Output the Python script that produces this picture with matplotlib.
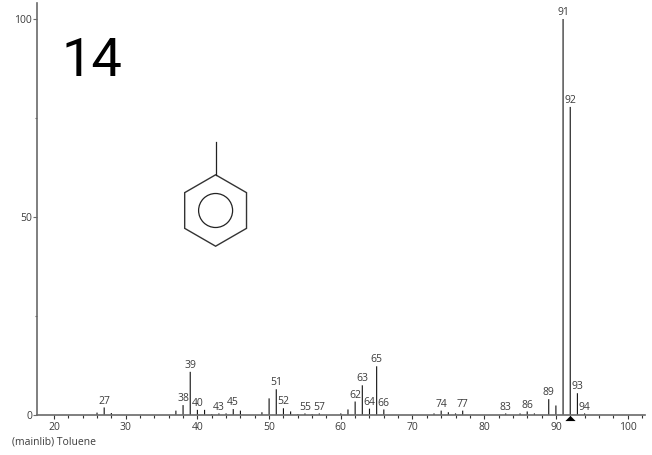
import numpy as np
import matplotlib
matplotlib.use("Agg")
import matplotlib.pyplot as plt
from matplotlib.patches import Circle, Polygon
from matplotlib.transforms import Affine2D, ScaledTranslation

plt.rcParams['font.family'] = ['Open Sans', 'DejaVu Sans']

mz = [26, 27, 28, 37, 38, 39, 40, 41, 42, 43, 44, 45, 46, 49, 50, 51, 52, 53, 54, 55, 56, 57,
      60, 61, 62, 63, 64, 65, 66, 73, 74, 75, 76, 77, 83, 85, 86, 87, 89, 90, 91, 92, 93, 94]
intensity = [0.6, 1.9, 0.5, 1.1, 2.5, 10.9, 1.3, 1.3, 0.2, 0.4, 0.4, 1.5, 1.1, 0.7, 4.2, 6.5, 1.7, 0.9, 0.2, 0.4, 0.2, 0.4,
             0.4, 1.4, 3.4, 7.5, 1.6, 12.3, 1.4, 0.4, 1.1, 0.7, 0.4, 1.1, 0.4, 0.4, 0.9, 0.4, 4.0, 2.4, 100.0, 77.8, 5.5, 0.4]
labelled = [27, 38, 39, 40, 43, 45, 51, 52, 55, 57, 62, 63, 64, 65, 66, 74, 77, 83, 86, 89, 91, 92, 93, 94]
x_major = [20, 30, 40, 50, 60, 70, 80, 90, 100]
x_minor = [22, 24, 26, 28, 32, 34, 36, 38, 42, 44, 46, 48, 52, 54, 56, 58, 62, 64, 66, 68,
           72, 74, 76, 78, 82, 84, 86, 88, 92, 94, 96, 98, 102]
y_major = [0, 50, 100]
y_minor = [25, 75]
library = "(mainlib) Toluene"
spectrum_no = "14"
precursor_mz = 92

W, H = 652, 455
fig = plt.figure(figsize=(W / 100, H / 100), dpi=100)
L, R, B, T = 36.7, 645, 415, 3
ax = fig.add_axes([L / W, 1 - B / H, (R - L) / W, (B - T) / H])
ax.set_xlim(20 - (54.0 - L) / 7.17, 20 + (R - 54.0) / 7.17)
ax.set_ylim(0, (B - T) / 3.96)
ax.patch.set_visible(False)

GREY = '#6a6a6a'
TXT = '#3c3c3c'
FS = 7.5
for s in ('top', 'right'):
    ax.spines[s].set_visible(False)
for s in ('left', 'bottom'):
    ax.spines[s].set_color(GREY)
    ax.spines[s].set_linewidth(1.2)

ax.set_xticks(x_major)
ax.set_xticks(x_minor, minor=True)
ax.set_yticks(y_major)
ax.set_yticks(y_minor, minor=True)
ax.tick_params(axis='x', which='major', length=3.2, width=0.8, color='#333333', labelsize=FS, labelcolor=TXT, pad=1.6)
ax.tick_params(axis='x', which='minor', length=2, width=0.8, color='#333333')
ax.tick_params(axis='y', which='major', length=3, width=0.8, color=GREY, labelsize=FS, labelcolor=TXT, pad=0.3)
ax.tick_params(axis='y', which='minor', length=1.5, width=0.8, color=GREY)

bars = ax.vlines(mz, 0, intensity, colors='#111111', linewidth=0.8)
bars.set_snap(False)
lookup = dict(zip(mz, intensity))
for m in labelled:
    ax.annotate(str(m), (m, lookup[m]), xytext=(0, 0.6), textcoords='offset points',
                ha='center', va='bottom', fontsize=FS, color=TXT)

offset = ScaledTranslation(0, -2.6 / 100, fig.dpi_scale_trans)
ax.plot([precursor_mz], [0], marker=[(-1, -0.5), (1, -0.5), (0, 0.5)], color='black', markersize=7.4,
        markeredgewidth=0, clip_on=False, transform=ax.get_xaxis_transform() + offset,
        linestyle='none', zorder=5)

fig.text(12 / W, 1 - 441.5 / H, library, fontsize=FS, color=TXT, va='center', ha='left')
fig.text(61 / W, 1 - 76 / H, spectrum_no, fontsize=39, color='black', va='baseline', ha='left',
         family='Roboto')

# toluene structure, drawn in figure pixels (y downward from top)
px = Affine2D().scale(1, -1).translate(0, H).scale(1 / W, 1 / H) + fig.transFigure
cx, cy, r = 215.6, 210.5, 35.7
ang = np.deg2rad(np.arange(0, 360, 60) + 90)
hexagon = np.column_stack([cx + r * np.cos(ang), cy + r * np.sin(ang)])
fig.add_artist(Polygon(hexagon, closed=True, fill=False, edgecolor='#333333', linewidth=1.0, transform=px))
fig.add_artist(Circle((cx, cy), 17, fill=False, edgecolor='#222222', linewidth=0.9, transform=px))
fig.add_artist(plt.Line2D([cx, cx], [cy - r, 142], color='#222222', linewidth=0.9, transform=px))

fig.savefig('out.png', dpi=100)
